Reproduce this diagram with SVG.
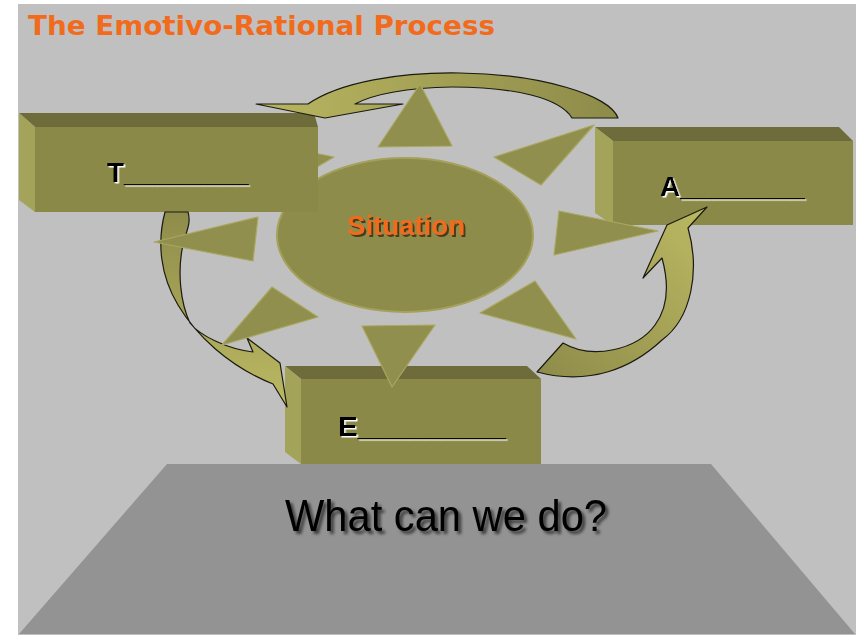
<svg xmlns="http://www.w3.org/2000/svg" width="856" height="638" viewBox="0 0 856 638">
<defs>
<style>
.top{fill:#6D6C3A}
.front{fill:#8A8947}
.side{fill:#A4A35A}
.tri{fill:#918F4D;stroke:#A9A760;stroke-width:1.2;stroke-linejoin:round}
.arrow{stroke:#1A1A10;stroke-width:1.2;stroke-linejoin:round}
.lbl{font-family:"Liberation Sans",Arial,sans-serif;font-weight:bold;font-size:28px;fill:#000;filter:url(#wsh)}
</style>
<linearGradient id="gTop" x1="256" y1="0" x2="618" y2="0" gradientUnits="userSpaceOnUse">
<stop offset="0" stop-color="#B9B661"/><stop offset="1" stop-color="#8D8B49"/>
</linearGradient>
<linearGradient id="gLeft" x1="0" y1="212" x2="0" y2="407" gradientUnits="userSpaceOnUse">
<stop offset="0" stop-color="#8E8C4A"/><stop offset="1" stop-color="#BCB963"/>
</linearGradient>
<linearGradient id="gRight" x1="537" y1="372" x2="707" y2="207" gradientUnits="userSpaceOnUse">
<stop offset="0" stop-color="#8E8C4A"/><stop offset="1" stop-color="#BCB963"/>
</linearGradient>
<filter id="sh" x="-10%" y="-30%" width="130%" height="170%">
<feDropShadow dx="3" dy="3" stdDeviation="1.5" flood-color="#000" flood-opacity="0.6"/>
</filter>
<filter id="osh" x="-10%" y="-30%" width="130%" height="170%">
<feDropShadow dx="2" dy="2" stdDeviation="0.6" flood-color="#3E3618" flood-opacity="0.9"/>
</filter>
<filter id="wsh" x="-10%" y="-30%" width="130%" height="170%">
<feDropShadow dx="1.5" dy="1.5" stdDeviation="0.3" flood-color="#FFFFFF" flood-opacity="1"/>
</filter>
</defs>
<rect x="0" y="0" width="856" height="638" fill="#FFFFFF"/>
<rect x="18" y="4" width="838" height="631" fill="#C0C0C0"/>
<text x="28" y="35" font-family="'DejaVu Sans Condensed','DejaVu Sans',sans-serif" font-weight="bold" font-size="27" fill="#F26B1D" textLength="467" lengthAdjust="spacingAndGlyphs">The Emotivo-Rational Process</text>

<g id="platform">
<polygon points="167,464 711,464 855,634 19,634" fill="#939393"/>
<text x="285" y="531" font-family="'Liberation Sans',Arial,sans-serif" font-size="44" fill="#000" textLength="322" lengthAdjust="spacingAndGlyphs" filter="url(#sh)">What can we do?</text>
</g>

<g id="situation">
<ellipse cx="405" cy="235" rx="128" ry="77" fill="#8E8C4A" stroke="#A3A15A" stroke-width="2"/>
<text x="347" y="235" font-family="'Liberation Sans',Arial,sans-serif" font-weight="bold" font-size="27" fill="#F26B1D" textLength="118" lengthAdjust="spacingAndGlyphs" filter="url(#osh)">Situation</text>
</g>

<g id="tri-upper-left">
<polygon class="tri" points="300,150 334,157 312,170"/>
</g>

<g id="box-T">
<polygon class="top" points="19,113 314,113 318,127 35,127"/>
<polygon class="side" points="19,113 35,127 35,212 19,200"/>
<rect class="front" x="35" y="127" width="283" height="85"/>
<text class="lbl" x="107" y="182">T________</text>
</g>

<g id="box-A">
<polygon class="top" points="595,127 839,127 853,141 613,141"/>
<polygon class="side" points="595,127 613,141 613,225 595,213"/>
<rect class="front" x="613" y="141" width="240" height="84"/>
<text class="lbl" x="660" y="196">A________</text>
</g>

<g id="box-E">
<polygon class="top" points="285,366 527,366 541,379 301,379"/>
<polygon class="side" points="285,366 301,379 301,464 285,452"/>
<rect class="front" x="301" y="379" width="240" height="85"/>
<text class="lbl" x="338" y="436" textLength="168" lengthAdjust="spacingAndGlyphs">E_________</text>
</g>

<g id="connectors">
<path class="arrow" fill="url(#gTop)" d="M308,104 C340,82 400,72 460,73 C540,74 610,95 618,118 L572,118 C560,98 515,87 452,87 C405,88 372,95 355,104 L403,104 L325,118 L256,104 Z"/>
<path class="arrow" fill="url(#gLeft)" d="M165,212 C157,242 160,275 178,305 C196,335 228,366 273,384 L287,407 L280,363 L247,338 L253,352 C228,349 200,336 190,323 C180,302 178,272 182,250 C184,235 192,225 188,212 Z"/>
<path class="arrow" fill="url(#gRight)" d="M563,343 C592,360 637,350 655,325 C670,305 668,280 662,258 L643,278 L667,225 L707,207 L688,228 C700,270 692,318 662,340 C632,368 590,386 537,372 Z"/>
</g>

<g id="triangles">
<polygon class="tri" points="420,84 452,146 378,147"/>
<polygon class="tri" points="594,125 541,185 494,157"/>
<polygon class="tri" points="658,231 554,255 559,211"/>
<polygon class="tri" points="576,339 480,313 535,281"/>
<polygon class="tri" points="392,387 362,326 435,325"/>
<polygon class="tri" points="222,345 272,287 318,317"/>
<polygon class="tri" points="154,242 258,217 253,261"/>
</g>
</svg>
